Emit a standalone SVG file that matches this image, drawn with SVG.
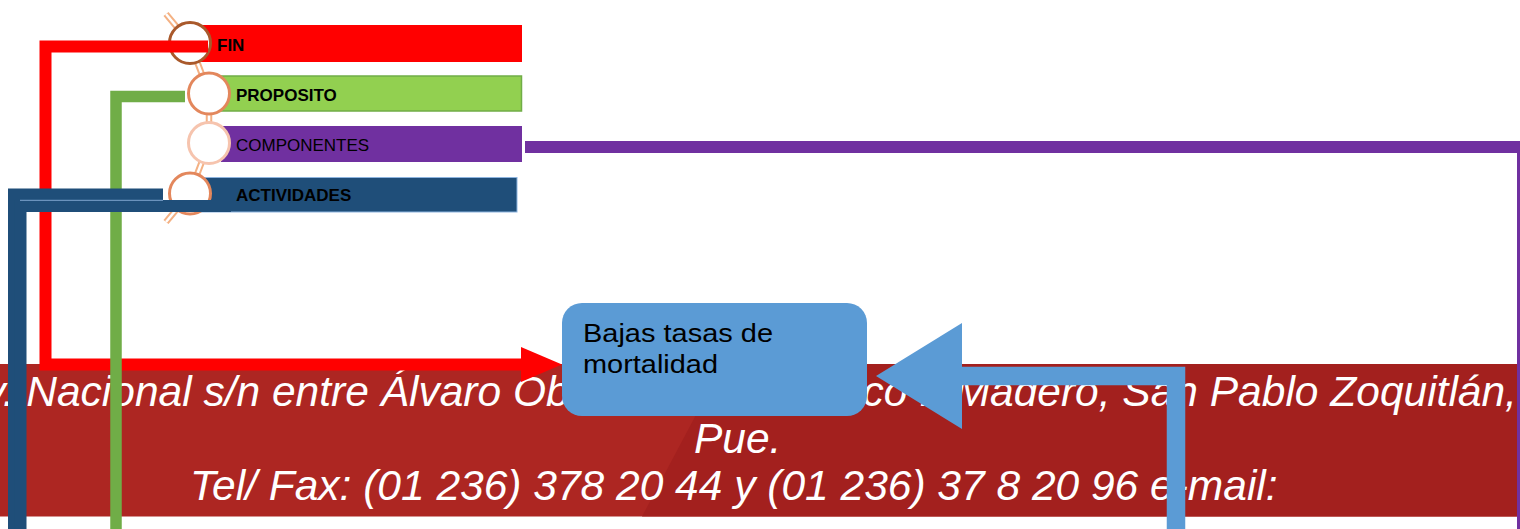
<svg xmlns="http://www.w3.org/2000/svg" width="1520" height="529" viewBox="0 0 1520 529">
  <defs>
    <style>
      .lbl { font-family: "Liberation Sans", Arial, sans-serif; font-size: 17px; fill: #000; }
      .b { font-weight: bold; }
      .addr { font-family: "Liberation Sans", Arial, sans-serif; font-size: 42.5px; font-style: italic; fill: #fff; }
      .boxt { font-family: "Liberation Sans", Arial, sans-serif; font-size: 26px; fill: #000; }
      .conn { fill: none; stroke-linejoin: miter; stroke-linecap: butt; }
      .ring { fill: #fff; stroke-width: 3; }
    </style>
    <clipPath id="bandClip">
      <rect x="0" y="364" width="1517" height="152.5"/>
    </clipPath>
  </defs>

  <rect x="0" y="0" width="1520" height="529" fill="#fff"/>

  <!-- footer band -->
  <g id="footer">
    <rect x="0" y="364" width="1517" height="152.5" fill="#AD2622"/>
    <polygon points="723,364 1517,364 1517,516.5 642,516.5" fill="#A3201E"/>
    <g clip-path="url(#bandClip)">
      <text class="addr" x="-43" y="406">Av. Nacional s/n entre Álvaro Obregón y Francisco I. Madero, San Pablo Zoquitlán,</text>
      <text class="addr" x="694" y="453">Pue.</text>
      <text class="addr" x="190" y="500">Tel/ Fax: (01 236) 378 20 44 y (01 236) 37 8 20 96 e-mail:</text>
    </g>
  </g>

  <!-- level bars -->
  <g id="fin">
    <rect x="200" y="25" width="322" height="37" fill="#FF0000"/>
    <text class="lbl b" x="217" y="51">FIN</text>
  </g>
  <g id="proposito">
    <rect x="221" y="76" width="300.5" height="35" fill="#92D050" stroke="#70AD47" stroke-width="1.5"/>
    <text class="lbl b" x="236" y="101">PROPOSITO</text>
  </g>
  <g id="componentes">
    <rect x="221" y="126" width="301" height="36" fill="#7030A0"/>
    <text class="lbl" x="236" y="151">COMPONENTES</text>
  </g>
  <g id="actividades">
    <rect x="200" y="177.5" width="317" height="34.5" fill="#1F4E79" stroke="#8DB4DF" stroke-width="1"/>
    <text class="lbl b" x="236" y="201">ACTIVIDADES</text>
  </g>

  <!-- chain of rings -->
  <g id="chain">
    <path d="M166,14 L190,43 L209,93 L209,143 L190,193 L166,222" fill="none" stroke="#F4B183" stroke-width="6.5"/>
    <path d="M166,14 L190,43 L209,93 L209,143 L190,193 L166,222" fill="none" stroke="#fff" stroke-width="2.5"/>
    <circle class="ring" cx="190" cy="43" r="20.5" stroke="#A9592B"/>
    <circle class="ring" cx="209" cy="93.5" r="20.5" stroke="#E3875C"/>
    <circle class="ring" cx="209" cy="143" r="20.5" stroke="#F6C4AE"/>
    <circle class="ring" cx="190" cy="193.5" r="20.5" stroke="#E3875C"/>
  </g>

  <!-- result box -->
  <g id="resultado">
    <rect x="562" y="303" width="305" height="113" rx="20" ry="20" fill="#5B9BD5"/>
    <text class="boxt" x="583" y="342" textLength="190" lengthAdjust="spacingAndGlyphs">Bajas tasas de</text>
    <text class="boxt" x="583" y="373" textLength="135" lengthAdjust="spacingAndGlyphs">mortalidad</text>
  </g>

  <!-- connectors -->
  <g id="connectors">
    <path class="conn" d="M208,46.5 H45.5 V364.5 H522" stroke="#FF0000" stroke-width="12"/>
    <polygon points="521,347 562,364.5 521,382" fill="#FF0000"/>
    <path class="conn" d="M185,96.5 H116 V529" stroke="#70AD47" stroke-width="11.5"/>
    <path class="conn" d="M525,147 H1523 V529" stroke="#7030A0" stroke-width="12"/>
    <path class="conn" d="M163,194.5 H14 V529" stroke="#1F4E79" stroke-width="12"/>
    <path class="conn" d="M231,206 H20.5 V529" stroke="#1F4E79" stroke-width="12"/>
    <line x1="20" y1="200.3" x2="163" y2="200.3" stroke="#7FA6CF" stroke-width="1"/>
    <path class="conn" d="M1176,529 V376 H960" stroke="#5B9BD5" stroke-width="18.5"/>
    <polygon points="962,323 876,376 962,429" fill="#5B9BD5"/>
  </g>
</svg>
